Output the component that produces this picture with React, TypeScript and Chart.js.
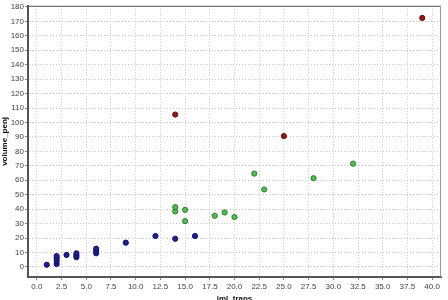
import React, { useEffect, useRef } from "react";
import { Chart, registerables } from "chart.js";

Chart.register(...registerables);

const blueX = [1, 2, 2, 2, 2, 3, 4, 4, 4, 6, 6, 6, 9, 12, 14, 16];
const blueY = [1.5, 2, 4, 6, 7.5, 8.3, 6.7, 8, 9.4, 9.4, 11.2, 12.6, 16.8, 21.4, 19.5, 21.4];
const greenX = [14, 14, 15, 15, 18, 19, 20, 22, 23, 28, 32];
const greenY = [38.4, 41.4, 39.5, 31.7, 35.4, 37.7, 34.5, 64.6, 53.6, 61.4, 71.5];
const redX = [14, 25, 39];
const redY = [105.5, 90.6, 172.4];

const xTicks = [0, 2.5, 5, 7.5, 10, 12.5, 15, 17.5, 20, 22.5, 25, 27.5, 30, 32.5, 35, 37.5, 40];
const yTicks = [0, 10, 20, 30, 40, 50, 60, 70, 80, 90, 100, 110, 120, 130, 140, 150, 160, 170, 180];
const xTitle = "iml_trans";
const yTitle = "volume_penj";

const toPoints = (xs: number[], ys: number[]) => xs.map((x, i) => ({ x, y: ys[i] }));

const frame = {
  id: "frame",
  afterDraw(chart: any) {
    const { ctx, chartArea } = chart;
    const { left, right, top, bottom } = chartArea;
    ctx.save();
    ctx.lineWidth = 1;
    ctx.strokeStyle = "#555555";
    ctx.beginPath();
    ctx.moveTo(left, top + 0.5);
    ctx.lineTo(right, top + 0.5);
    ctx.stroke();
    ctx.strokeStyle = "#9a9a9a";
    ctx.beginPath();
    ctx.moveTo(right - 0.5, top);
    ctx.lineTo(right - 0.5, bottom);
    ctx.stroke();
    ctx.restore();
  },
};

export default function App() {
  const ref = useRef<HTMLCanvasElement | null>(null);
  useEffect(() => {
    document.body.style.margin = "0";
    const canvas = ref.current;
    if (!canvas) return;
    const font = { family: "'Liberation Sans', Arial, sans-serif", size: 8 };
    const chart = new Chart(canvas, {
      type: "scatter",
      data: {
        datasets: [
          {
            data: toPoints(blueX, blueY),
            backgroundColor: "#1e1e8c",
            borderColor: "#12125e",
            borderWidth: 1,
            pointRadius: 2.6,
          },
          {
            data: toPoints(greenX, greenY),
            backgroundColor: "#55bb55",
            borderColor: "#2c7d2c",
            borderWidth: 1,
            pointRadius: 2.6,
          },
          {
            data: toPoints(redX, redY),
            backgroundColor: "#8e1c1c",
            borderColor: "#6a1212",
            borderWidth: 1,
            pointRadius: 2.6,
          },
        ],
      },
      options: {
        animation: false,
        responsive: false,
        maintainAspectRatio: false,
        layout: { padding: { top: 5, right: 7, left: 0, bottom: 0 } },
        plugins: { legend: { display: false }, tooltip: { enabled: false } },
        scales: {
          x: {
            type: "linear",
            min: -0.9,
            max: 40.9,
            afterBuildTicks: (scale: any) => {
              scale.ticks = xTicks.map((v) => ({ value: v }));
            },
            afterFit: (scale: any) => {
              scale.height = 23;
            },
            ticks: {
              font,
              color: "#444444",
              padding: 2,
              maxRotation: 0,
              autoSkip: false,
              callback: (v: any) => Number(v).toFixed(1),
            },
            grid: { color: "#c8c8c8", lineWidth: 1, tickLength: 3, tickColor: "#888888" },
            border: { display: true, color: "#555555", width: 2, dash: [1, 2] },
            title: {
              display: true,
              text: xTitle,
              font: { ...font, weight: "bold" },
              color: "#111111",
              padding: { top: 0, bottom: -4 },
            },
          },
          y: {
            type: "linear",
            min: -7,
            max: 180.8,
            afterBuildTicks: (scale: any) => {
              scale.ticks = yTicks.map((v) => ({ value: v }));
            },
            afterFit: (scale: any) => {
              scale.width = 28;
            },
            ticks: {
              font,
              color: "#444444",
              padding: 1,
              autoSkip: false,
            },
            grid: { color: "#c8c8c8", lineWidth: 1, tickLength: 3, tickColor: "#888888" },
            border: { display: true, color: "#555555", width: 2, dash: [1, 2] },
            title: {
              display: true,
              text: yTitle,
              font: { ...font, weight: "bold" },
              color: "#111111",
              padding: { top: 0, bottom: 0 },
            },
          },
        },
      } as any,
      plugins: [frame],
    });
    return () => chart.destroy();
  }, []);
  return (
    <div style={{ width: 448, height: 300, background: "#ffffff" }}>
      <canvas ref={ref} width={448} height={300} style={{ display: "block" }} />
    </div>
  );
}
